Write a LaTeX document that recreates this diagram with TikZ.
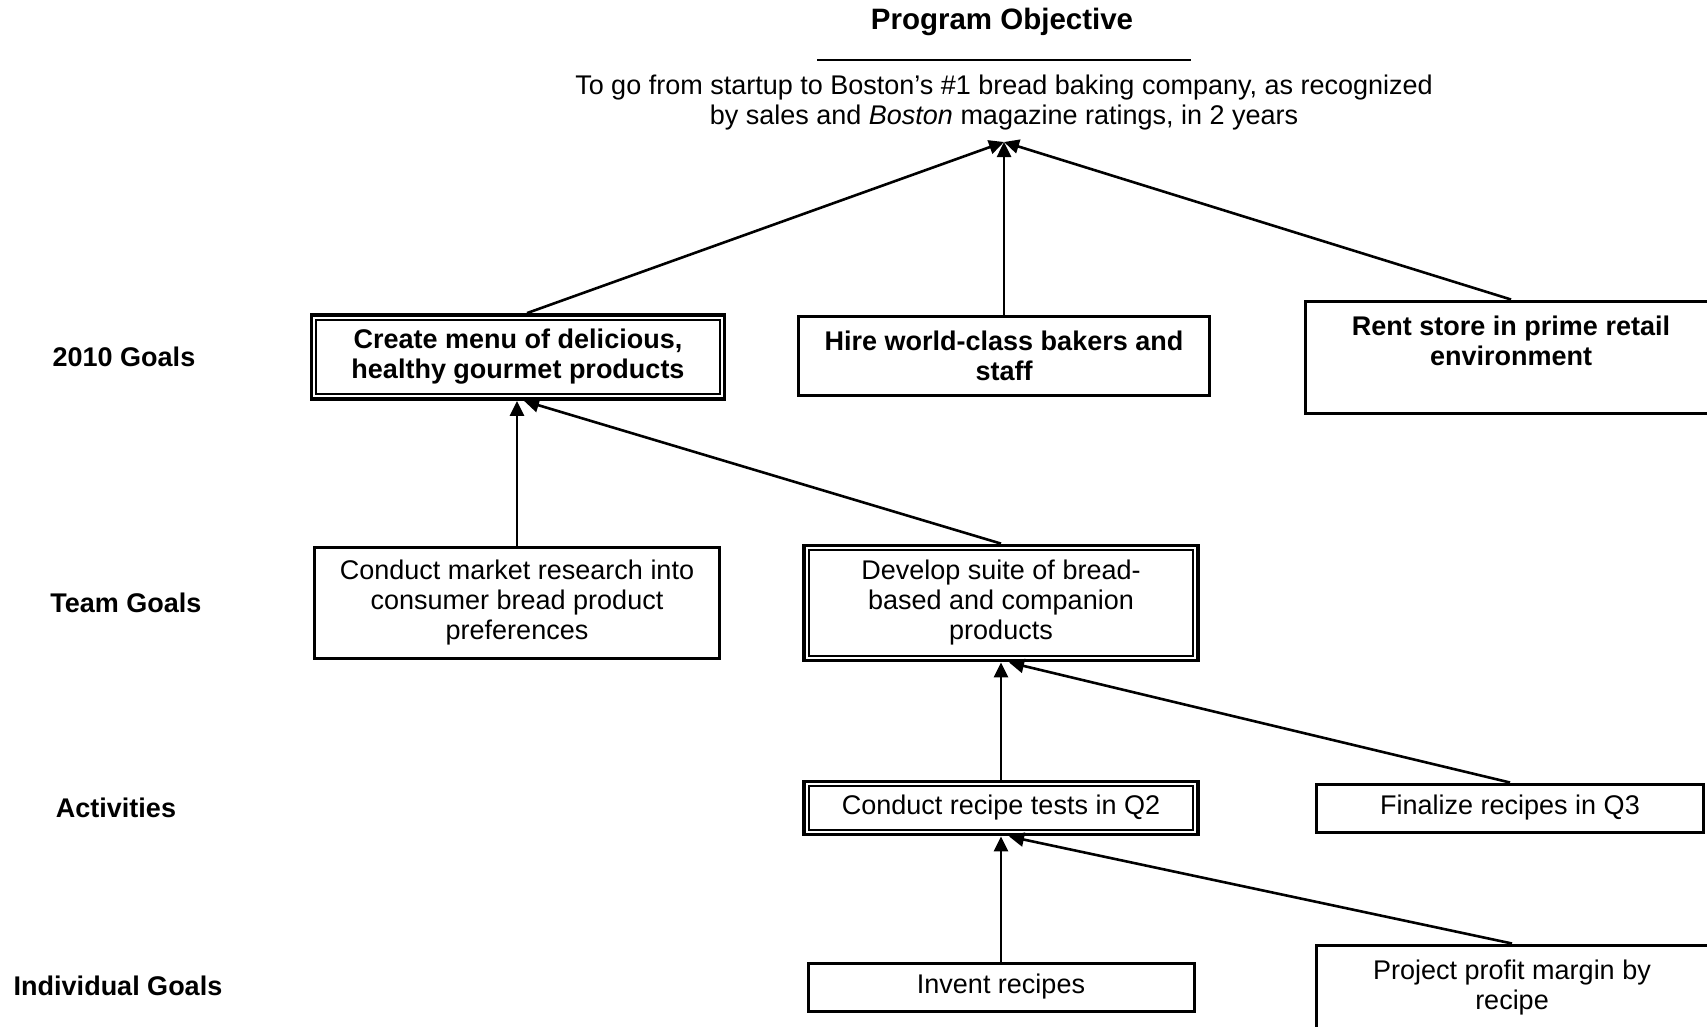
\documentclass[tikz,border=0pt]{standalone}
\usepackage{fontspec}
\setmainfont{Liberation Sans}
\usetikzlibrary{arrows.meta}
\begin{document}
\begin{tikzpicture}[x=1pt,y=-1pt,
  every node/.style={font=\fontsize{27}{30}\selectfont, align=center, inner sep=0pt},
  box/.style={draw, line width=3pt},
  boldbox/.style={box, font=\fontsize{27}{30}\selectfont\bfseries},
  dblbox/.style={draw, line width=3.8pt},
  innerframe/.style={line width=2pt},
  level/.style={font=\fontsize{27}{30}\selectfont\bfseries},
  link/.style={line width=2.6pt, -{Triangle[length=15pt,width=14pt]}},
]
\useasboundingbox (0,0) rectangle (1707,1026);
\clip (0,0) rectangle (1707,1026);

% program objective
\node[font=\fontsize{29.5}{32}\selectfont\bfseries] (title) at (1002,22) {Program Objective};
\draw[line width=2pt] (817,60) -- (1191,60);
\node (obj) at (1004,103) {To go from startup to Boston's \#1 bread baking company, as recognized\\by sales and \textit{Boston} magazine ratings, in 2 years};
\coordinate (objtip) at (1004,142);

% level labels
\node[level] (l1) at (124,357) {2010 Goals};
\node[level] (l2) at (126,603) {Team Goals};
\node[level] (l3) at (116,808) {Activities};
\node[level] (l4) at (118,986) {Individual Goals};

% 2010 goals
\node[dblbox, font=\fontsize{27}{30}\selectfont\bfseries, minimum width=413, minimum height=84] (menu) at (518,357) {Create menu of delicious,\\healthy gourmet products};
\node[boldbox, minimum width=411, minimum height=79] (hire) at (1004,356) {Hire world-class bakers and\\staff};
\node[boldbox, minimum width=412, minimum height=112] (rent) at (1511,357) {Rent store in prime retail\\environment\\[2pt]~};

% team goals
\node[box, minimum width=405, minimum height=111] (research) at (517,603) {Conduct market research into\\consumer bread product\\preferences};
\node[dblbox, minimum width=394, minimum height=115] (suite) at (1001,603) {Develop suite of bread-\\based and companion\\products};

% activities
\node[dblbox, minimum width=394, minimum height=53] (tests) at (1001,808) {Conduct recipe tests in Q2};
\node[box, minimum width=387, minimum height=48] (final) at (1510,808) {Finalize recipes in Q3};

% individual goals
\node[box, minimum width=386, minimum height=48] (invent) at (1001,987) {Invent recipes};
\node[box, minimum width=392, minimum height=112] (margin) at (1512,1001) {Project profit margin by\\recipe\\[2pt]~};

% inner lines of the double frames
\foreach \n in {menu,suite,tests}
  \draw[innerframe] ([shift={(6.5pt,-6.5pt)}]\n.north west) rectangle ([shift={(-6.5pt,6.5pt)}]\n.south east);

% connectors
\draw[link] (menu.north) ++(9,0) -- (objtip);
\draw[link] (hire.north) -- (objtip);
\draw[link] (rent.north) -- (objtip);
\draw[link] (research.north) -- (research.north |- menu.south);
\draw[link] (suite.north) -- ([xshift=6pt]menu.south);
\draw[link] (tests.north) -- (suite.south);
\draw[link] (final.north) -- ([xshift=8pt]suite.south);
\draw[link] (invent.north) -- (tests.south);
\draw[link] (margin.north) -- ([xshift=8pt]tests.south);
\end{tikzpicture}
\end{document}
